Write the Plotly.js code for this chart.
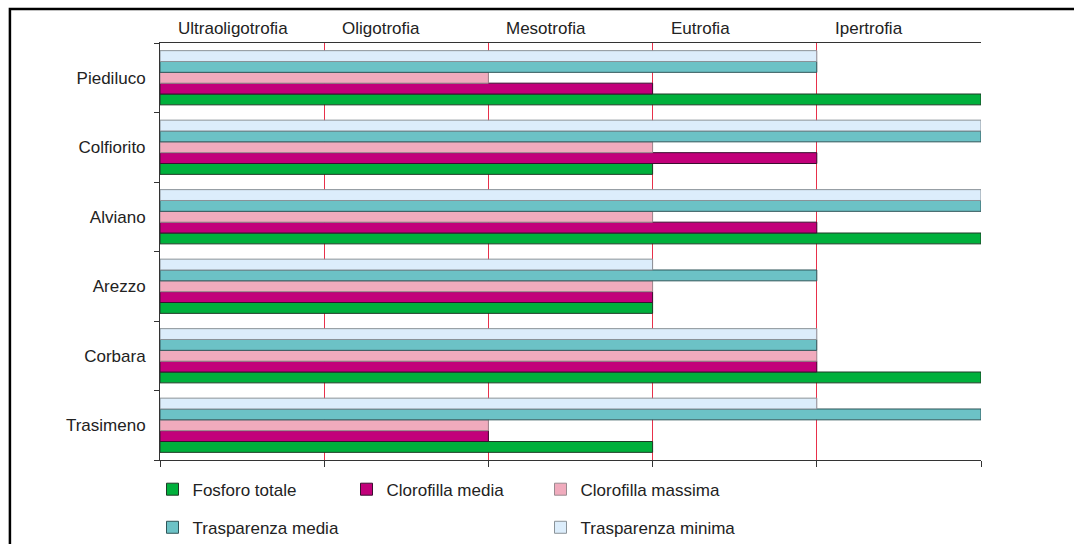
<!DOCTYPE html>
<html>
<head>
<meta charset="utf-8">
<script src="https://cdn.plot.ly/plotly-3.0.1.min.js"></script>
<style>
html,body{margin:0;padding:0;background:#fff;}
#chart{width:1074px;height:544px;}
</style>
</head>
<body>
<div id="chart"></div>
<script>
// Lakes (bottom to top as drawn)
var lakes = ['Trasimeno', 'Corbara', 'Arezzo', 'Alviano', 'Colfiorito', 'Piediluco'];
// Trophic classes (top labels)
var trophicLabels = ['Ultraoligotrofia', 'Oligotrofia', 'Mesotrofia', 'Eutrofia', 'Ipertrofia'];
// Series (trophic level reached, 1..5), same order as lakes
var fosforoTotale      = [3, 5, 3, 5, 3, 5];
var clorofillaMedia    = [2, 4, 3, 4, 4, 3];
var clorofillaMassima  = [2, 4, 3, 3, 3, 2];
var trasparenzaMedia   = [5, 4, 4, 5, 5, 4];
var trasparenzaMinima  = [4, 4, 3, 5, 5, 4];

var seriesNames = ['Fosforo totale', 'Clorofilla media', 'Clorofilla massima', 'Trasparenza media', 'Trasparenza minima'];
var seriesValues = [fosforoTotale, clorofillaMedia, clorofillaMassima, trasparenzaMedia, trasparenzaMinima];
var fills = ['#00b03c', '#c2007a', '#f0abbd', '#6cc2c6', '#dcedfb'];
var outlines = ['#1e3a26', '#3a1030', '#9a8a90', '#2f5558', '#8a9298'];
var legendIds = ['legend', 'legend', 'legend', 'legend2', 'legend2'];

var traces = seriesNames.map(function (name, i) {
  return {
    type: 'bar',
    orientation: 'h',
    name: name,
    y: lakes,
    x: seriesValues[i],
    marker: { color: fills[i], line: { color: outlines[i], width: 1 } },
    legend: legendIds[i],
    hoverinfo: 'x+y+name'
  };
});

var annotations = trophicLabels.map(function (t, i) {
  return {
    xref: 'x', yref: 'paper',
    x: i, y: 1,
    xanchor: 'left', yanchor: 'bottom',
    xshift: 16, yshift: 3,
    text: t, showarrow: false,
    font: { family: 'Liberation Sans, Arial, sans-serif', size: 17, color: '#222' }
  };
});

var layout = {
  width: 1074, height: 544,
  margin: { l: 160, r: 93, t: 43, b: 84, pad: 0, autoexpand: false },
  paper_bgcolor: '#fff', plot_bgcolor: '#fff',
  font: { family: 'Liberation Sans, Arial, sans-serif', size: 17, color: '#222' },
  barmode: 'group',
  bargap: 0.22,
  bargroupgap: 0,
  xaxis: {
    range: [0, 5],
    tickvals: [0, 1, 2, 3, 4, 5],
    showticklabels: false,
    ticks: 'outside', ticklen: 6, tickwidth: 1, tickcolor: '#333',
    showgrid: true, gridcolor: '#e8304a', gridwidth: 1,
    zeroline: false,
    showline: true, linecolor: '#333', linewidth: 1, mirror: true,
    fixedrange: true
  },
  yaxis: {
    type: 'category',
    categoryorder: 'array', categoryarray: lakes,
    tickson: 'boundaries',
    ticks: 'outside', ticklen: 5, tickwidth: 1, tickcolor: '#333',
    ticklabelstandoff: 10,
    showgrid: false, zeroline: false,
    showline: true, linecolor: '#333', linewidth: 1,
    tickfont: { size: 17, color: '#222' },
    fixedrange: true
  },
  showlegend: true,
  legend: {
    orientation: 'h',
    xref: 'container', yref: 'container',
    x: 0.142, xanchor: 'left',
    y: 0.133, yanchor: 'top',
    entrywidth: 149,
    traceorder: 'normal',
    font: { size: 17, color: '#222' },
    bgcolor: 'rgba(0,0,0,0)'
  },
  legend2: {
    orientation: 'h',
    xref: 'container', yref: 'container',
    x: 0.142, xanchor: 'left',
    y: 0.063, yanchor: 'top',
    entrywidth: 343,
    traceorder: 'normal',
    font: { size: 17, color: '#222' },
    bgcolor: 'rgba(0,0,0,0)'
  },
  annotations: annotations,
  shapes: [{
    type: 'rect', xref: 'paper', yref: 'paper',
    x0: -0.1828, x1: 1.2, y0: -0.3, y1: 1.0815,
    line: { color: '#000', width: 2.5 }, fillcolor: 'rgba(0,0,0,0)',
    layer: 'above'
  }]
};

Plotly.newPlot('chart', traces, layout, { staticPlot: true, displayModeBar: false });
</script>
</body>
</html>
